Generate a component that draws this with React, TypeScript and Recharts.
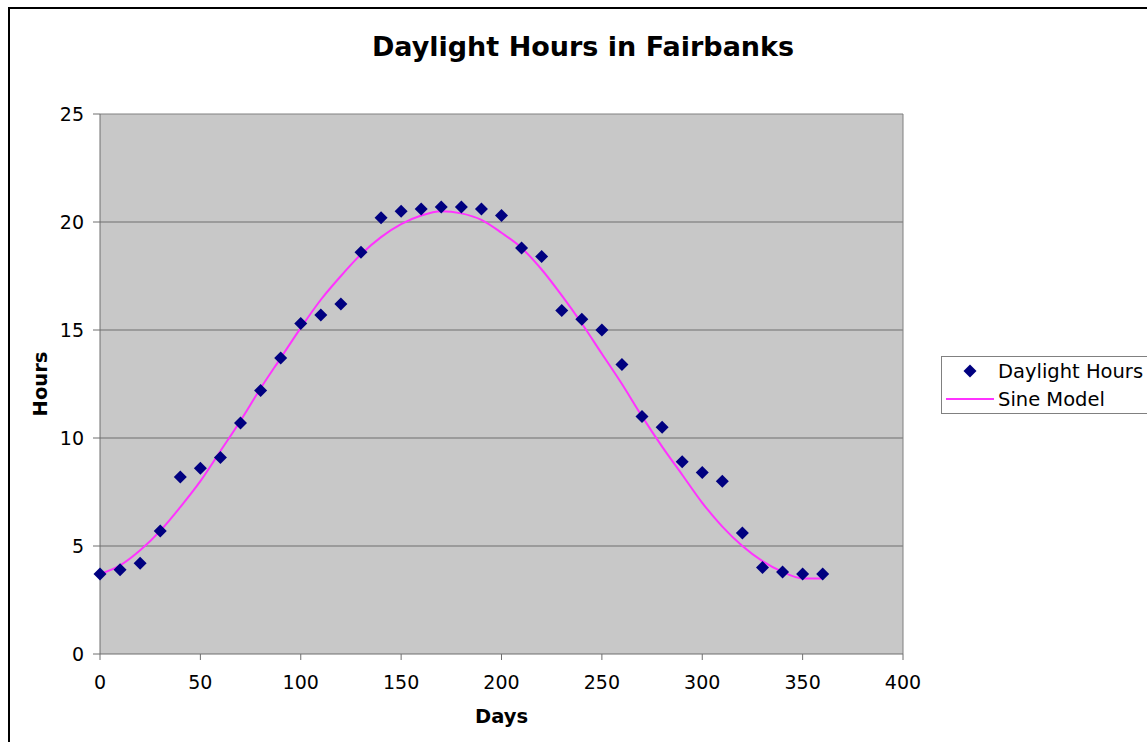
import React from "react";
import {
  ComposedChart,
  Scatter,
  Line,
  XAxis,
  YAxis,
  CartesianGrid,
  ReferenceLine,
} from "recharts";

// ---------------------------------------------------------------------------
// Data
// ---------------------------------------------------------------------------

const days = [
  0, 10, 20, 30, 40, 50, 60, 70, 80, 90, 100, 110, 120, 130, 140, 150, 160,
  170, 180, 190, 200, 210, 220, 230, 240, 250, 260, 270, 280, 290, 300, 310,
  320, 330, 340, 350, 360,
];

const daylightHours = [
  3.7, 3.9, 4.2, 5.7, 8.2, 8.6, 9.1, 10.7, 12.2, 13.7, 15.3, 15.7, 16.2, 18.6,
  20.2, 20.5, 20.6, 20.7, 20.7, 20.6, 20.3, 18.8, 18.4, 15.9, 15.5, 15.0, 13.4,
  11.0, 10.5, 8.9, 8.4, 8.0, 5.6, 4.0, 3.8, 3.7, 3.7,
];

const sineModel = [
  3.7, 4.1, 4.8, 5.7, 6.8, 8.0, 9.4, 10.8, 12.3, 13.7, 15.1, 16.4, 17.5, 18.5,
  19.3, 19.9, 20.3, 20.5, 20.4, 20.1, 19.5, 18.8, 17.8, 16.6, 15.3, 13.9, 12.5,
  11.0, 9.6, 8.3, 7.0, 5.9, 5.0, 4.3, 3.8, 3.5, 3.5,
];

const xTicks = [0, 50, 100, 150, 200, 250, 300, 350, 400];
const yTicks = [0, 5, 10, 15, 20, 25];

const pointData = days.map((d, i) => ({ day: d, hours: daylightHours[i] }));
const modelData = days.map((d, i) => ({ day: d, model: sineModel[i] }));

const FONT = "'DejaVu Sans', Verdana, sans-serif";
const NAVY = "#000080";
const MAGENTA = "#ff33ff";

// ---------------------------------------------------------------------------
// Pieces
// ---------------------------------------------------------------------------

function Diamond(props: any) {
  const { cx, cy } = props;
  if (cx == null || cy == null) return null;
  const r = 6.5;
  return (
    <path
      d={`M${cx},${cy - r}L${cx + r},${cy}L${cx},${cy + r}L${cx - r},${cy}Z`}
      fill={NAVY}
    />
  );
}

function LegendBox() {
  const row = { display: "flex", alignItems: "center", height: 28 } as const;
  return (
    <div
      style={{
        position: "absolute",
        left: 941,
        top: 356,
        width: 240,
        height: 56,
        border: "1px solid #808080",
        background: "#fff",
        fontFamily: FONT,
        fontSize: 19.5,
        color: "#000",
      }}
    >
      <div style={row}>
        <svg width={54} height={20}>
          <path d="M28,3.5L34.5,10L28,16.5L21.5,10Z" fill={NAVY} />
        </svg>
        <span style={{ marginLeft: 2 }}>Daylight Hours</span>
      </div>
      <div style={row}>
        <svg width={54} height={20}>
          <line x1={4} y1={10} x2={52} y2={10} stroke={MAGENTA} strokeWidth={2} />
        </svg>
        <span style={{ marginLeft: 2 }}>Sine Model</span>
      </div>
    </div>
  );
}

// ---------------------------------------------------------------------------
// Component
// ---------------------------------------------------------------------------

export default function App() {
  const tick = { fontSize: 19, fill: "#000", fontFamily: FONT };
  const axisTitle = {
    fontSize: 19.5,
    fontWeight: "bold",
    fill: "#000",
    fontFamily: FONT,
  };
  return (
    <div
      style={{
        position: "absolute",
        left: 0,
        top: 0,
        width: 1147,
        height: 742,
        overflow: "hidden",
        background: "#fff",
      }}
    >
      <div
        style={{
          position: "absolute",
          left: 8,
          top: 7,
          width: 1180,
          height: 780,
          border: "2px solid #000",
        }}
      />
      <div
        style={{
          position: "absolute",
          left: 0,
          top: 31,
          width: 1166,
          textAlign: "center",
          fontFamily: FONT,
          fontWeight: "bold",
          fontSize: 27,
        }}
      >
        Daylight Hours in Fairbanks
      </div>
      <div style={{ position: "absolute", left: 0, top: 0 }}>
        <ComposedChart
          width={1147}
          height={742}
          margin={{ top: 114, right: 244, bottom: 58, left: 40 }}
        >
          <CartesianGrid
            vertical={false}
            fill="#c8c8c8"
            stroke="#6e6e6e"
            horizontalValues={[5, 10, 15, 20]}
          />
          <XAxis
            type="number"
            dataKey="day"
            domain={[0, 400]}
            ticks={xTicks}
            interval={0}
            stroke="#6e6e6e"
            tickSize={6}
            tickMargin={16}
            tick={tick}
            height={30}
            label={{
              value: "Days",
              position: "insideBottom",
              offset: -39,
              style: axisTitle,
            }}
          />
          <YAxis
            type="number"
            domain={[0, 25]}
            ticks={yTicks}
            interval={0}
            width={60}
            stroke="#6e6e6e"
            tickSize={7}
            tickMargin={9}
            tick={tick}
            label={{
              value: "Hours",
              angle: -90,
              position: "insideLeft",
              offset: 0,
              style: { ...axisTitle, textAnchor: "middle" },
            }}
          />
          <ReferenceLine y={25} stroke="#808080" />
          <ReferenceLine x={400} stroke="#808080" />
          <Line
            data={modelData}
            dataKey="model"
            type="monotone"
            stroke={MAGENTA}
            strokeWidth={2}
            dot={false}
            activeDot={false}
            isAnimationActive={false}
          />
          <Scatter
            data={pointData}
            dataKey="hours"
            shape={<Diamond />}
            isAnimationActive={false}
          />
        </ComposedChart>
      </div>
      <LegendBox />
    </div>
  );
}
